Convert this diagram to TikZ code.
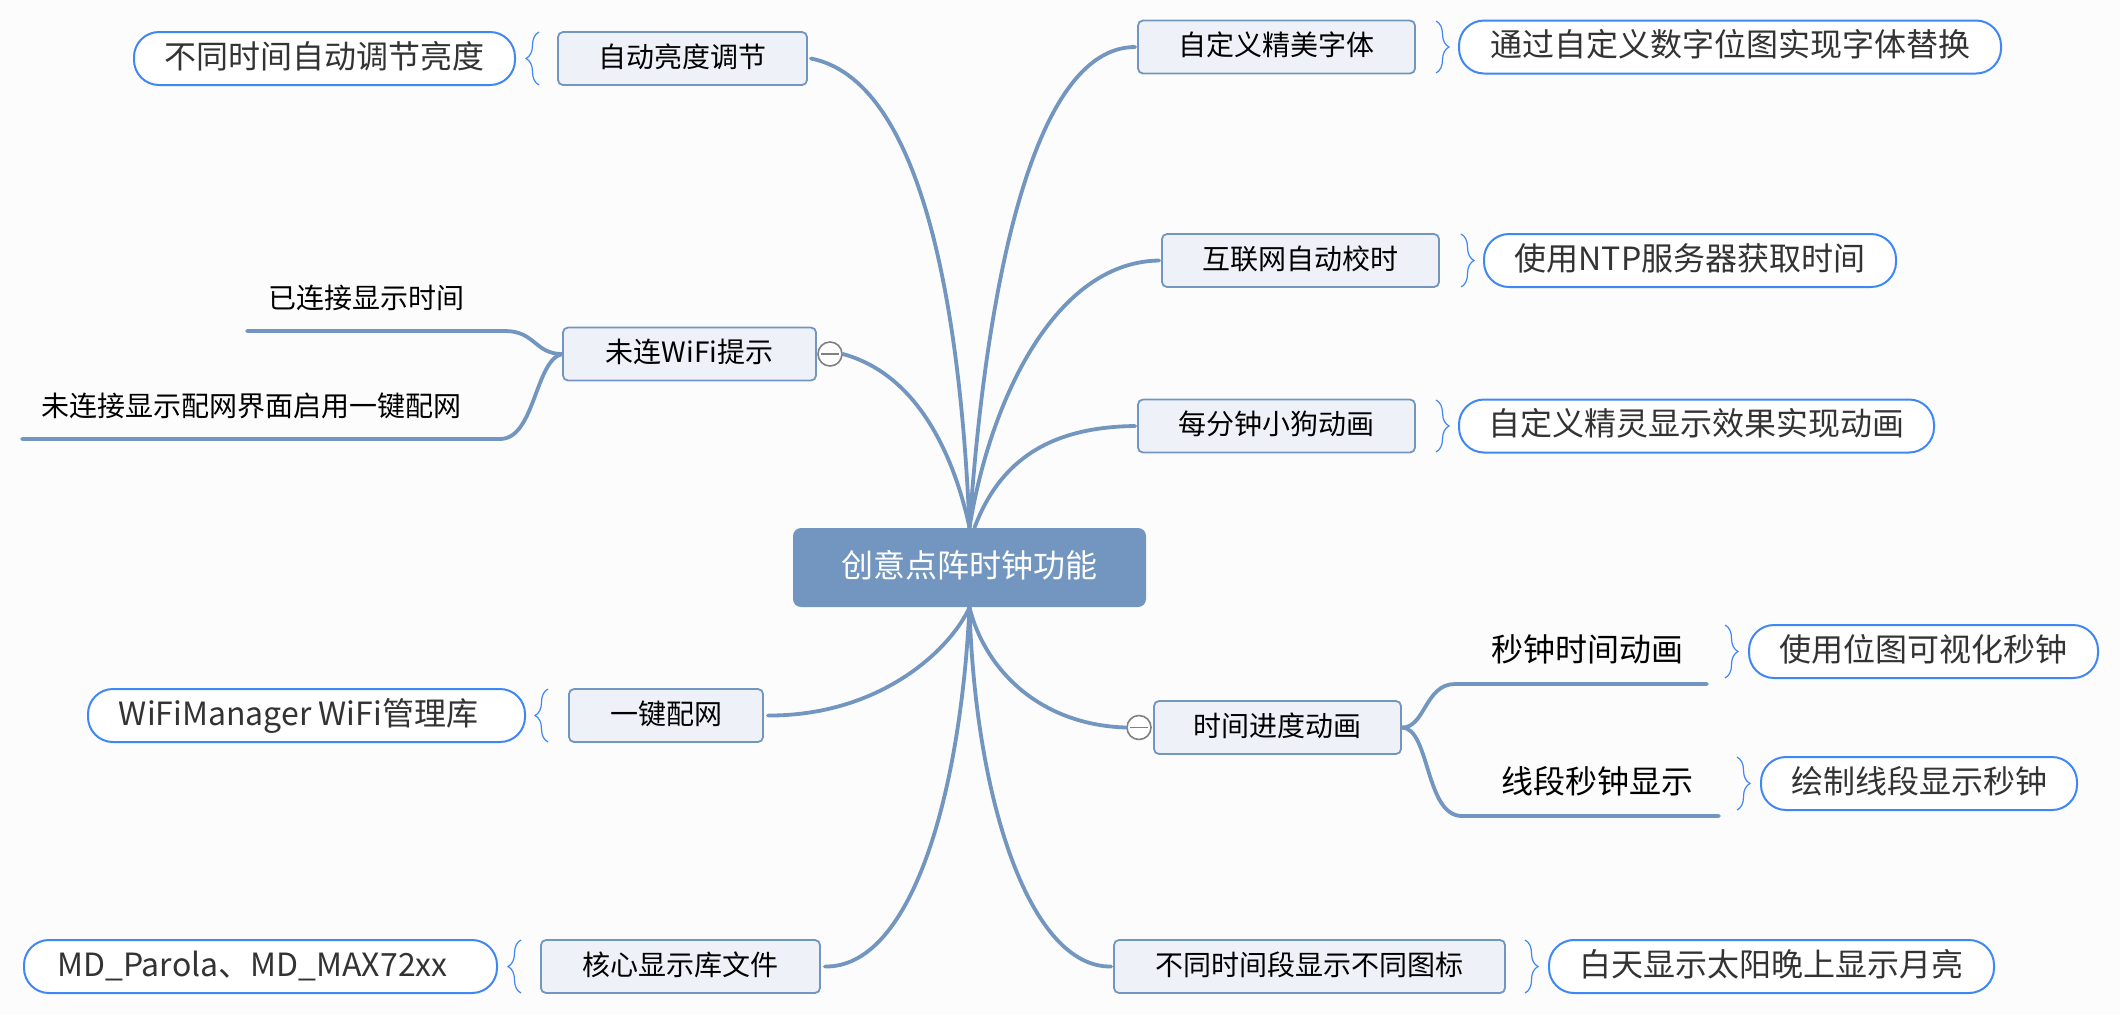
\documentclass[tikz,border=0pt]{standalone}
\usepackage{fontspec}
\setmainfont{Noto Sans CJK SC}
\usetikzlibrary{decorations.pathreplacing}
\definecolor{paperbg}{HTML}{FCFCFC}
\definecolor{stem}{HTML}{7296BF}
\definecolor{topicfill}{HTML}{EEF2F8}
\definecolor{pillblue}{HTML}{3F87F5}
\definecolor{pilltext}{HTML}{333333}
\definecolor{foldgray}{HTML}{808080}

\begin{document}
\begin{tikzpicture}[x=0.5pt,y=-0.5pt,
  rootbox/.style={rectangle,rounded corners=4pt,fill=stem,text=white,inner sep=0pt,minimum width=176.5pt,minimum height=39.5pt,font=\fontsize{16}{18}\selectfont,text height=9.8pt,text depth=0pt},
  topicbox/.style={rectangle,rounded corners=2.5pt,draw=stem,line width=0.9pt,fill=topicfill,text=black,inner sep=0pt,minimum width=#1,minimum height=26.5pt,font=\fontsize{14}{16}\selectfont,text height=8.8pt,text depth=0pt},
  hintpill/.style={rectangle,rounded corners=12.5pt,draw=pillblue,line width=1pt,fill=white,text=pilltext,inner sep=0pt,minimum width=#1,minimum height=26.5pt,font=\fontsize{16}{18}\selectfont,text height=9.8pt,text depth=0pt},
  plainbig/.style={inner sep=0pt,text=black,font=\fontsize{16}{18}\selectfont,text height=9.8pt,text depth=0pt},
  plainsmall/.style={inner sep=0pt,text=black,font=\fontsize{14}{16}\selectfont,text height=8.8pt,text depth=0pt},
  fold/.style={circle,draw=foldgray,line width=0.8pt,fill=white,inner sep=0pt,minimum size=12pt},
  branch/.style={draw=stem,line width=1.9pt,line cap=round},
  curly/.style={draw=pillblue,line width=0.6pt,decorate,decoration={brace,amplitude=6.5pt}}]

\useasboundingbox [fill=paperbg] (0,0) rectangle (2120,1014);

\node [rootbox] (root) at (969.5,567.5) {创意点阵时钟功能};

\node [topicbox=124.5pt] (bright) at (682.5,58.5) {自动亮度调节};
\node [hintpill=190.5pt] (brighthint) at (324.5,58.5) {不同时间自动调节亮度};

\node [topicbox=126.5pt] (nowifi) at (689.5,354) {未连WiFi提示};
\node [fold] (nowififold) at (830,354) {};
\node [plainsmall] (online) at (366,299.5) {已连接显示时间};
\node [plainsmall] (offline) at (251,407.5) {未连接显示配网界面启用一键配网};
\coordinate (onlineend) at (247,331);
\coordinate (offlineend) at (22,439);

\node [topicbox=97pt] (netcfg) at (666,715.5) {一键配网};
\node [hintpill=218.5pt] (netcfghint) at (306.5,715.5) {WiFiManager WiFi管理库\hspace*{8pt}};

\node [topicbox=139.5pt] (core) at (680.5,966.5) {核心显示库文件};
\node [hintpill=236.5pt] (corehint) at (260.5,966.5) {MD\_Parola、MD\_MAX72xx\hspace*{8pt}};

\node [topicbox=138.5pt] (font) at (1276.5,47) {自定义精美字体};
\node [hintpill=271pt] (fonthint) at (1730,47) {通过自定义数字位图实现字体替换};

\node [topicbox=138.5pt] (ntp) at (1300.5,260.5) {互联网自动校时};
\node [hintpill=206pt] (ntphint) at (1690,260.5) {使用NTP服务器获取时间};

\node [topicbox=138.5pt] (dog) at (1276.5,426) {每分钟小狗动画};
\node [hintpill=237.5pt] (doghint) at (1696.5,426) {自定义精灵显示效果实现动画};

\node [topicbox=123.5pt] (progress) at (1277.5,727.5) {时间进度动画};
\node [fold] (progressfold) at (1139,727.5) {};
\node [plainbig] (second) at (1587,651.5) {秒钟时间动画};
\node [plainbig] (segment) at (1597,783.5) {线段秒钟显示};
\coordinate (secondend) at (1707,684);
\coordinate (segmentend) at (1719,816);
\node [hintpill=174.5pt] (secondhint) at (1923.5,651.5) {使用位图可视化秒钟};
\node [hintpill=158pt] (segmenthint) at (1919,783.5) {绘制线段显示秒钟};

\node [topicbox=195.5pt] (icon) at (1309.5,966.5) {不同时间段显示不同图标};
\node [hintpill=222.5pt] (iconhint) at (1771.5,966.5) {白天显示太阳晚上显示月亮};

\draw [branch] (root.north) .. controls (960,300) and (920,80) .. ([xshift=1.5pt]bright.east);
\draw [branch] (root.north) .. controls (955,460) and (920,375) .. (nowififold.east);
\draw [branch] (root.north) .. controls (985,300) and (1030,47) .. ([xshift=-1pt]font.west);
\draw [branch] (root.north) .. controls (990,400) and (1055,262) .. ([xshift=-1pt]ntp.west);
\draw [branch] ([xshift=2.5pt]root.north) .. controls (1000,460) and (1050,427) .. ([xshift=-1pt]dog.west);
\draw [branch] (root.south) .. controls (950,650) and (880,716) .. ([xshift=2pt]netcfg.east);
\draw [branch] (root.south) .. controls (960,800) and (910,968) .. ([xshift=2pt]core.east);
\draw [branch] (root.south) .. controls (985,670) and (1040,725) .. (progressfold.west);
\draw [branch] (root.south) .. controls (975,800) and (1030,968) .. ([xshift=-1pt]icon.west);

\draw [branch] (nowifi.west) .. controls (535,354) and (535,331) .. (505,331) -- (onlineend);
\draw [branch] (nowifi.west) .. controls (535,360) and (535,439) .. (500,439) -- (offlineend);
\draw [branch] (progress.east) .. controls (1425,728) and (1425,684) .. (1455,684) -- (secondend);
\draw [branch] (progress.east) .. controls (1430,728) and (1425,816) .. (1462,816) -- (segmentend);

\draw [foldgray,line width=0.7pt] ([xshift=-4.5pt]nowififold.center) -- ([xshift=4.5pt]nowififold.center);
\draw [foldgray,line width=0.7pt] ([xshift=-4.5pt]progressfold.center) -- ([xshift=4.5pt]progressfold.center);

\draw [curly] (539,85) -- (539,32);
\draw [curly] (548,742) -- (548,689);
\draw [curly] (521,993) -- (521,940);
\draw [curly] (1436,21) -- (1436,73);
\draw [curly] (1461,234) -- (1461,287);
\draw [curly] (1436,400) -- (1436,452);
\draw [curly] (1725,625) -- (1725,678);
\draw [curly] (1737,757) -- (1737,810);
\draw [curly] (1525,940) -- (1525,993);

\end{tikzpicture}
\end{document}
